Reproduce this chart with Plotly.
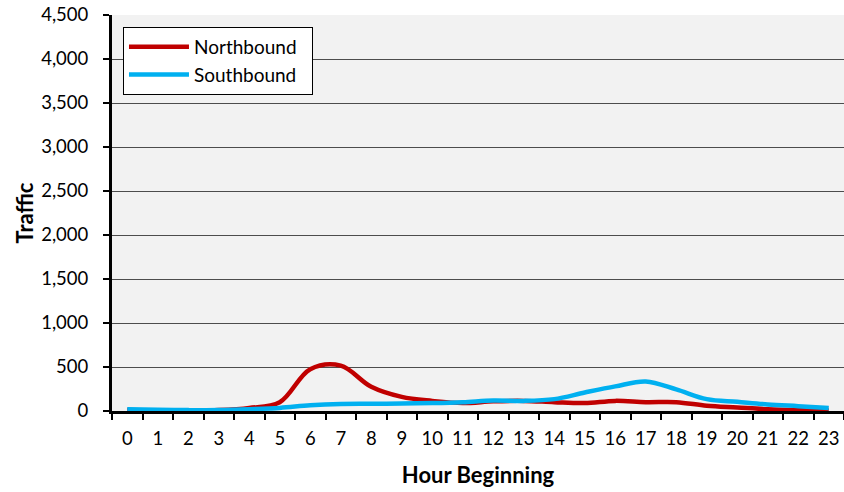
import plotly.graph_objects as go

# Hourly traffic counts by direction
hours = [str(h) for h in range(24)]
northbound = [10, 5, 5, 10, 35, 100, 475, 515, 275, 160, 115, 90,
              110, 115, 100, 90, 115, 100, 100, 60, 40, 20, 10, 5]
southbound = [20, 15, 10, 10, 20, 35, 65, 80, 82, 85, 90, 100,
              120, 115, 135, 210, 280, 335, 245, 135, 105, 75, 55, 35]

y_ticks = list(range(0, 4501, 500))

FONT = "Lato"

fig = go.Figure()
fig.add_trace(go.Scatter(
    x=hours, y=northbound, name="Northbound\u00a0\u00a0", mode="lines",
    line=dict(color="#C00000", width=4.5, shape="spline", smoothing=1.0),
))
fig.add_trace(go.Scatter(
    x=hours, y=southbound, name="Southbound\u00a0\u00a0", mode="lines",
    line=dict(color="#00B0F0", width=4.5, shape="spline", smoothing=1.0),
))

fig.update_layout(
    width=844, height=492,
    margin=dict(l=112, r=0, t=15, b=81),
    paper_bgcolor="white",
    plot_bgcolor="#F2F2F2",
    font=dict(family=FONT, size=18, color="black"),
    showlegend=True,
    legend=dict(
        x=0.015, y=0.97, xanchor="left", yanchor="top",
        bgcolor="white", bordercolor="black", borderwidth=1,
        font=dict(family=FONT, size=19, color="black"),
        itemwidth=60,
    ),
)

fig.update_xaxes(
    type="category",
    range=[-0.5, 23.5],
    tickson="boundaries",
    tickangle=0,
    ticks="outside", ticklen=6, tickwidth=2, tickcolor="black",
    showline=True, linecolor="black", linewidth=3,
    showgrid=False, zeroline=False,
    automargin=False,
    ticklabelstandoff=9,
    title=dict(text="<b>Hour Beginning</b>", font=dict(family=FONT, size=22), standoff=20),
    tickfont=dict(family=FONT, size=18.5),
)

fig.update_yaxes(
    range=[0, 4500],
    tickvals=y_ticks,
    tickformat=",",
    ticks="outside", ticklen=6, tickwidth=2, tickcolor="black",
    showline=True, linecolor="black", linewidth=3,
    showgrid=True, gridcolor="#4D4D4D", gridwidth=1,
    zeroline=False,
    automargin=False,
    ticklabelstandoff=11,
    title=dict(text="<b>Traffic</b>", font=dict(family=FONT, size=22), standoff=2),
    tickfont=dict(family=FONT, size=18.5),
)

fig.write_html("out.html")
